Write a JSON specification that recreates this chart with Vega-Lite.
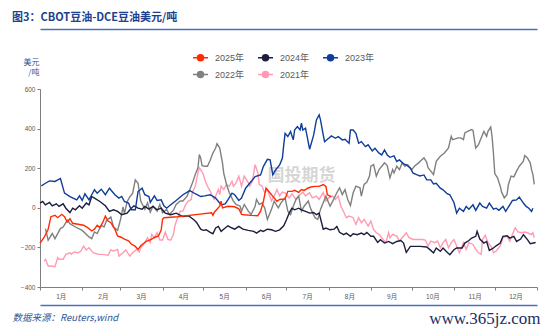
{
"$schema": "https://vega.github.io/schema/vega-lite/v6.json",
"width": 497, "height": 198,
"autosize": {"type": "none"},
"padding": {"left": 40, "top": 89, "right": 13, "bottom": 46},
"background": "white",
"title": {"text": "图3：CBOT豆油-DCE豆油美元/吨", "anchor": "start", "frame": "bounds", "offset": 6, "font": "Noto Sans CJK SC", "fontSize": 11, "fontWeight": "bold", "color": "#1f3f8f"},
"config": {"view": {"stroke": null}, "font": "Noto Sans CJK SC", "axis": {"grid": false, "labelFont": "Liberation Sans, Noto Sans CJK SC", "titleFont": "Noto Sans CJK SC"}},
"datasets": {
"pts": [
{"year":"2021年","day":3,"value":-269},{"year":"2021年","day":4,"value":-260},{"year":"2021年","day":6,"value":-294},{"year":"2021年","day":8,"value":-294},{"year":"2021年","day":11,"value":-297},{"year":"2021年","day":13,"value":-252},{"year":"2021年","day":14,"value":-260},{"year":"2021年","day":17,"value":-260},{"year":"2021年","day":19,"value":-235},{"year":"2021年","day":22,"value":-227},{"year":"2021年","day":23,"value":-235},{"year":"2021年","day":25,"value":-223},{"year":"2021年","day":28,"value":-227},{"year":"2021年","day":30,"value":-218},{"year":"2021年","day":32,"value":-193},{"year":"2021年","day":34,"value":-213},{"year":"2021年","day":36,"value":-202},{"year":"2021年","day":39,"value":-227},{"year":"2021年","day":43,"value":-235},{"year":"2021年","day":46,"value":-235},{"year":"2021年","day":50,"value":-240},{"year":"2021年","day":52,"value":-213},{"year":"2021年","day":54,"value":-218},{"year":"2021年","day":57,"value":-210},{"year":"2021年","day":58,"value":-244},{"year":"2021年","day":61,"value":-227},{"year":"2021年","day":63,"value":-213},{"year":"2021年","day":66,"value":-244},{"year":"2021年","day":68,"value":-227},{"year":"2021年","day":71,"value":-210},{"year":"2021年","day":73,"value":-223},{"year":"2021年","day":74,"value":-202},{"year":"2021年","day":77,"value":-176},{"year":"2021年","day":79,"value":-151},{"year":"2021年","day":81,"value":-176},{"year":"2021年","day":82,"value":-134},{"year":"2021年","day":84,"value":-151},{"year":"2021年","day":86,"value":-126},{"year":"2021年","day":88,"value":-163},{"year":"2021年","day":90,"value":-163},{"year":"2021年","day":92,"value":-123},{"year":"2021年","day":94,"value":-160},{"year":"2021年","day":96,"value":-163},{"year":"2021年","day":98,"value":-134},{"year":"2021年","day":99,"value":-92},{"year":"2021年","day":101,"value":-50},{"year":"2021年","day":103,"value":-17},{"year":"2021年","day":105,"value":-17},{"year":"2021年","day":107,"value":17},{"year":"2021年","day":109,"value":34},{"year":"2021年","day":111,"value":42},{"year":"2021年","day":112,"value":79},{"year":"2021年","day":114,"value":109},{"year":"2021年","day":116,"value":176},{"year":"2021年","day":117,"value":202},{"year":"2021年","day":118,"value":193},{"year":"2021年","day":120,"value":168},{"year":"2021年","day":121,"value":143},{"year":"2021年","day":123,"value":109},{"year":"2021年","day":125,"value":84},{"year":"2021年","day":126,"value":67},{"year":"2021年","day":128,"value":42},{"year":"2021年","day":130,"value":76},{"year":"2021年","day":131,"value":92},{"year":"2021年","day":132,"value":67},{"year":"2021年","day":133,"value":109},{"year":"2021年","day":135,"value":92},{"year":"2021年","day":137,"value":118},{"year":"2021年","day":139,"value":109},{"year":"2021年","day":141,"value":134},{"year":"2021年","day":142,"value":109},{"year":"2021年","day":144,"value":126},{"year":"2021年","day":146,"value":160},{"year":"2021年","day":148,"value":109},{"year":"2021年","day":150,"value":160},{"year":"2021年","day":153,"value":126},{"year":"2021年","day":154,"value":109},{"year":"2021年","day":156,"value":134},{"year":"2021年","day":158,"value":218},{"year":"2021年","day":160,"value":176},{"year":"2021年","day":161,"value":118},{"year":"2021年","day":163,"value":109},{"year":"2021年","day":165,"value":76},{"year":"2021年","day":167,"value":92},{"year":"2021年","day":170,"value":34},{"year":"2021年","day":172,"value":60},{"year":"2021年","day":174,"value":92},{"year":"2021年","day":176,"value":60},{"year":"2021年","day":178,"value":79},{"year":"2021年","day":180,"value":75},{"year":"2021年","day":183,"value":50},{"year":"2021年","day":185,"value":70},{"year":"2021年","day":188,"value":42},{"year":"2021年","day":190,"value":60},{"year":"2021年","day":193,"value":79},{"year":"2021年","day":195,"value":60},{"year":"2021年","day":198,"value":76},{"year":"2021年","day":200,"value":50},{"year":"2021年","day":203,"value":59},{"year":"2021年","day":205,"value":42},{"year":"2021年","day":208,"value":76},{"year":"2021年","day":210,"value":34},{"year":"2021年","day":212,"value":50},{"year":"2021年","day":215,"value":59},{"year":"2021年","day":217,"value":42},{"year":"2021年","day":219,"value":59},{"year":"2021年","day":221,"value":8},{"year":"2021年","day":223,"value":-20},{"year":"2021年","day":225,"value":-50},{"year":"2021年","day":227,"value":-42},{"year":"2021年","day":230,"value":-50},{"year":"2021年","day":232,"value":-84},{"year":"2021年","day":234,"value":-50},{"year":"2021年","day":236,"value":-76},{"year":"2021年","day":238,"value":-59},{"year":"2021年","day":241,"value":-92},{"year":"2021年","day":243,"value":-67},{"year":"2021年","day":245,"value":-109},{"year":"2021年","day":247,"value":-126},{"year":"2021年","day":249,"value":-134},{"year":"2021年","day":252,"value":-160},{"year":"2021年","day":254,"value":-176},{"year":"2021年","day":256,"value":-126},{"year":"2021年","day":257,"value":-151},{"year":"2021年","day":259,"value":-134},{"year":"2021年","day":262,"value":-143},{"year":"2021年","day":264,"value":-168},{"year":"2021年","day":266,"value":-151},{"year":"2021年","day":269,"value":-126},{"year":"2021年","day":271,"value":-151},{"year":"2021年","day":274,"value":-160},{"year":"2021年","day":277,"value":-160},{"year":"2021年","day":281,"value":-160},{"year":"2021年","day":283,"value":-163},{"year":"2021年","day":285,"value":-193},{"year":"2021年","day":287,"value":-168},{"year":"2021年","day":290,"value":-176},{"year":"2021年","day":292,"value":-168},{"year":"2021年","day":294,"value":-202},{"year":"2021年","day":296,"value":-176},{"year":"2021年","day":298,"value":-160},{"year":"2021年","day":300,"value":-202},{"year":"2021年","day":302,"value":-176},{"year":"2021年","day":304,"value":-160},{"year":"2021年","day":306,"value":-193},{"year":"2021年","day":308,"value":-227},{"year":"2021年","day":311,"value":-176},{"year":"2021年","day":313,"value":-210},{"year":"2021年","day":315,"value":-176},{"year":"2021年","day":318,"value":-185},{"year":"2021年","day":320,"value":-210},{"year":"2021年","day":322,"value":-227},{"year":"2021年","day":324,"value":-235},{"year":"2021年","day":325,"value":-160},{"year":"2021年","day":327,"value":-139},{"year":"2021年","day":329,"value":-176},{"year":"2021年","day":332,"value":-202},{"year":"2021年","day":333,"value":-227},{"year":"2021年","day":335,"value":-218},{"year":"2021年","day":338,"value":-193},{"year":"2021年","day":340,"value":-151},{"year":"2021年","day":343,"value":-143},{"year":"2021年","day":345,"value":-168},{"year":"2021年","day":347,"value":-134},{"year":"2021年","day":349,"value":-101},{"year":"2021年","day":350,"value":-112},{"year":"2021年","day":351,"value":-122},{"year":"2021年","day":354,"value":-126},{"year":"2021年","day":356,"value":-122},{"year":"2021年","day":358,"value":-126},{"year":"2021年","day":361,"value":-135},{"year":"2021年","day":362,"value":-126},{"year":"2021年","day":363,"value":-151},
{"year":"2022年","day":4,"value":-105},{"year":"2022年","day":6,"value":-164},{"year":"2022年","day":9,"value":-130},{"year":"2022年","day":11,"value":-156},{"year":"2022年","day":15,"value":-105},{"year":"2022年","day":17,"value":-97},{"year":"2022年","day":20,"value":-63},{"year":"2022年","day":22,"value":-80},{"year":"2022年","day":26,"value":-97},{"year":"2022年","day":31,"value":-114},{"year":"2022年","day":36,"value":-147},{"year":"2022年","day":38,"value":-156},{"year":"2022年","day":40,"value":-122},{"year":"2022年","day":42,"value":-130},{"year":"2022年","day":45,"value":-88},{"year":"2022年","day":47,"value":-97},{"year":"2022年","day":49,"value":-63},{"year":"2022年","day":52,"value":-46},{"year":"2022年","day":54,"value":-97},{"year":"2022年","day":57,"value":-114},{"year":"2022年","day":59,"value":-63},{"year":"2022年","day":61,"value":5},{"year":"2022年","day":62,"value":-29},{"year":"2022年","day":64,"value":31},{"year":"2022年","day":66,"value":56},{"year":"2022年","day":68,"value":73},{"year":"2022年","day":70,"value":141},{"year":"2022年","day":72,"value":124},{"year":"2022年","day":74,"value":34},{"year":"2022年","day":77,"value":-8},{"year":"2022年","day":79,"value":25},{"year":"2022年","day":81,"value":-22},{"year":"2022年","day":83,"value":8},{"year":"2022年","day":86,"value":-17},{"year":"2022年","day":88,"value":17},{"year":"2022年","day":90,"value":-25},{"year":"2022年","day":93,"value":-8},{"year":"2022年","day":95,"value":-34},{"year":"2022年","day":98,"value":-12},{"year":"2022年","day":100,"value":17},{"year":"2022年","day":103,"value":34},{"year":"2022年","day":105,"value":34},{"year":"2022年","day":108,"value":59},{"year":"2022年","day":110,"value":92},{"year":"2022年","day":112,"value":126},{"year":"2022年","day":114,"value":168},{"year":"2022年","day":116,"value":202},{"year":"2022年","day":117,"value":269},{"year":"2022年","day":118,"value":252},{"year":"2022年","day":119,"value":213},{"year":"2022年","day":121,"value":210},{"year":"2022年","day":123,"value":210},{"year":"2022年","day":125,"value":240},{"year":"2022年","day":127,"value":277},{"year":"2022年","day":129,"value":302},{"year":"2022年","day":130,"value":324},{"year":"2022年","day":132,"value":302},{"year":"2022年","day":134,"value":227},{"year":"2022年","day":135,"value":173},{"year":"2022年","day":137,"value":118},{"year":"2022年","day":139,"value":76},{"year":"2022年","day":142,"value":34},{"year":"2022年","day":144,"value":17},{"year":"2022年","day":147,"value":8},{"year":"2022年","day":148,"value":-17},{"year":"2022年","day":150,"value":17},{"year":"2022年","day":153,"value":-17},{"year":"2022年","day":155,"value":-34},{"year":"2022年","day":158,"value":8},{"year":"2022年","day":159,"value":42},{"year":"2022年","day":161,"value":17},{"year":"2022年","day":163,"value":25},{"year":"2022年","day":165,"value":0},{"year":"2022年","day":167,"value":-59},{"year":"2022年","day":170,"value":-8},{"year":"2022年","day":172,"value":34},{"year":"2022年","day":175,"value":0},{"year":"2022年","day":177,"value":25},{"year":"2022年","day":180,"value":50},{"year":"2022年","day":182,"value":-17},{"year":"2022年","day":184,"value":-34},{"year":"2022年","day":186,"value":8},{"year":"2022年","day":188,"value":42},{"year":"2022年","day":190,"value":59},{"year":"2022年","day":192,"value":-17},{"year":"2022年","day":194,"value":8},{"year":"2022年","day":197,"value":34},{"year":"2022年","day":199,"value":-8},{"year":"2022年","day":202,"value":-50},{"year":"2022年","day":204,"value":-59},{"year":"2022年","day":206,"value":-8},{"year":"2022年","day":208,"value":25},{"year":"2022年","day":210,"value":59},{"year":"2022年","day":213,"value":8},{"year":"2022年","day":215,"value":34},{"year":"2022年","day":218,"value":76},{"year":"2022年","day":220,"value":101},{"year":"2022年","day":222,"value":67},{"year":"2022年","day":224,"value":92},{"year":"2022年","day":226,"value":42},{"year":"2022年","day":228,"value":12},{"year":"2022年","day":230,"value":76},{"year":"2022年","day":232,"value":109},{"year":"2022年","day":235,"value":101},{"year":"2022年","day":236,"value":59},{"year":"2022年","day":238,"value":118},{"year":"2022年","day":240,"value":129},{"year":"2022年","day":242,"value":160},{"year":"2022年","day":243,"value":210},{"year":"2022年","day":245,"value":218},{"year":"2022年","day":247,"value":160},{"year":"2022年","day":249,"value":193},{"year":"2022年","day":251,"value":210},{"year":"2022年","day":253,"value":227},{"year":"2022年","day":255,"value":213},{"year":"2022年","day":257,"value":151},{"year":"2022年","day":259,"value":193},{"year":"2022年","day":260,"value":176},{"year":"2022年","day":262,"value":210},{"year":"2022年","day":264,"value":193},{"year":"2022年","day":266,"value":227},{"year":"2022年","day":268,"value":210},{"year":"2022年","day":270,"value":218},{"year":"2022年","day":273,"value":193},{"year":"2022年","day":275,"value":210},{"year":"2022年","day":278,"value":227},{"year":"2022年","day":280,"value":240},{"year":"2022年","day":282,"value":252},{"year":"2022年","day":284,"value":230},{"year":"2022年","day":285,"value":202},{"year":"2022年","day":287,"value":185},{"year":"2022年","day":289,"value":168},{"year":"2022年","day":291,"value":235},{"year":"2022年","day":294,"value":260},{"year":"2022年","day":297,"value":277},{"year":"2022年","day":300,"value":302},{"year":"2022年","day":302,"value":361},{"year":"2022年","day":303,"value":344},{"year":"2022年","day":305,"value":348},{"year":"2022年","day":307,"value":353},{"year":"2022年","day":309,"value":353},{"year":"2022年","day":311,"value":344},{"year":"2022年","day":312,"value":378},{"year":"2022年","day":314,"value":386},{"year":"2022年","day":317,"value":395},{"year":"2022年","day":318,"value":391},{"year":"2022年","day":320,"value":302},{"year":"2022年","day":322,"value":319},{"year":"2022年","day":324,"value":353},{"year":"2022年","day":326,"value":386},{"year":"2022年","day":328,"value":361},{"year":"2022年","day":329,"value":386},{"year":"2022年","day":331,"value":408},{"year":"2022年","day":332,"value":361},{"year":"2022年","day":333,"value":277},{"year":"2022年","day":334,"value":173},{"year":"2022年","day":336,"value":151},{"year":"2022年","day":338,"value":109},{"year":"2022年","day":339,"value":79},{"year":"2022年","day":341,"value":50},{"year":"2022年","day":343,"value":67},{"year":"2022年","day":344,"value":118},{"year":"2022年","day":346,"value":160},{"year":"2022年","day":348,"value":156},{"year":"2022年","day":350,"value":185},{"year":"2022年","day":352,"value":210},{"year":"2022年","day":355,"value":235},{"year":"2022年","day":356,"value":264},{"year":"2022年","day":358,"value":252},{"year":"2022年","day":360,"value":227},{"year":"2022年","day":361,"value":193},{"year":"2022年","day":362,"value":168},{"year":"2022年","day":363,"value":118},
{"year":"2024年","day":0,"value":24},{"year":"2024年","day":2,"value":32},{"year":"2024年","day":4,"value":15},{"year":"2024年","day":7,"value":27},{"year":"2024年","day":9,"value":10},{"year":"2024年","day":12,"value":20},{"year":"2024年","day":14,"value":7},{"year":"2024年","day":17,"value":20},{"year":"2024年","day":19,"value":-2},{"year":"2024年","day":22,"value":-24},{"year":"2024年","day":24,"value":-2},{"year":"2024年","day":26,"value":-10},{"year":"2024年","day":29,"value":10},{"year":"2024年","day":31,"value":-2},{"year":"2024年","day":34,"value":24},{"year":"2024年","day":36,"value":15},{"year":"2024年","day":38,"value":57},{"year":"2024年","day":40,"value":49},{"year":"2024年","day":44,"value":32},{"year":"2024年","day":48,"value":10},{"year":"2024年","day":51,"value":-18},{"year":"2024年","day":54,"value":-10},{"year":"2024年","day":57,"value":-18},{"year":"2024年","day":60,"value":-35},{"year":"2024年","day":64,"value":-27},{"year":"2024年","day":66,"value":-10},{"year":"2024年","day":69,"value":10},{"year":"2024年","day":72,"value":-2},{"year":"2024年","day":75,"value":-7},{"year":"2024年","day":77,"value":7},{"year":"2024年","day":80,"value":-7},{"year":"2024年","day":83,"value":7},{"year":"2024年","day":86,"value":-10},{"year":"2024年","day":89,"value":-2},{"year":"2024年","day":92,"value":-27},{"year":"2024年","day":96,"value":-35},{"year":"2024年","day":100,"value":-27},{"year":"2024年","day":105,"value":-44},{"year":"2024年","day":109,"value":-40},{"year":"2024年","day":113,"value":-60},{"year":"2024年","day":115,"value":-74},{"year":"2024年","day":118,"value":-108},{"year":"2024年","day":120,"value":-114},{"year":"2024年","day":122,"value":-111},{"year":"2024年","day":125,"value":-124},{"year":"2024年","day":127,"value":-131},{"year":"2024年","day":129,"value":-102},{"year":"2024年","day":131,"value":-94},{"year":"2024年","day":133,"value":-119},{"year":"2024年","day":136,"value":-102},{"year":"2024年","day":138,"value":-91},{"year":"2024年","day":141,"value":-102},{"year":"2024年","day":143,"value":-108},{"year":"2024年","day":146,"value":-94},{"year":"2024年","day":149,"value":-108},{"year":"2024年","day":153,"value":-114},{"year":"2024年","day":157,"value":-119},{"year":"2024年","day":159,"value":-128},{"year":"2024年","day":162,"value":-114},{"year":"2024年","day":164,"value":-119},{"year":"2024年","day":167,"value":-108},{"year":"2024年","day":170,"value":-111},{"year":"2024年","day":173,"value":-119},{"year":"2024年","day":176,"value":-111},{"year":"2024年","day":179,"value":-91},{"year":"2024年","day":181,"value":-60},{"year":"2024年","day":183,"value":-27},{"year":"2024年","day":185,"value":-2},{"year":"2024年","day":187,"value":-10},{"year":"2024年","day":190,"value":-2},{"year":"2024年","day":192,"value":-10},{"year":"2024年","day":195,"value":-18},{"year":"2024年","day":198,"value":-27},{"year":"2024年","day":201,"value":-24},{"year":"2024年","day":203,"value":-35},{"year":"2024年","day":205,"value":-27},{"year":"2024年","day":208,"value":-108},{"year":"2024年","day":210,"value":-102},{"year":"2024年","day":213,"value":-111},{"year":"2024年","day":216,"value":-108},{"year":"2024年","day":218,"value":-94},{"year":"2024年","day":220,"value":-124},{"year":"2024年","day":223,"value":-136},{"year":"2024年","day":225,"value":-128},{"year":"2024年","day":228,"value":-144},{"year":"2024年","day":230,"value":-131},{"year":"2024年","day":233,"value":-136},{"year":"2024年","day":236,"value":-128},{"year":"2024年","day":238,"value":-136},{"year":"2024年","day":240,"value":-124},{"year":"2024年","day":243,"value":-144},{"year":"2024年","day":245,"value":-144},{"year":"2024年","day":248,"value":-175},{"year":"2024年","day":250,"value":-161},{"year":"2024年","day":253,"value":-178},{"year":"2024年","day":256,"value":-170},{"year":"2024年","day":259,"value":-181},{"year":"2024年","day":262,"value":-170},{"year":"2024年","day":265,"value":-165},{"year":"2024年","day":267,"value":-178},{"year":"2024年","day":269,"value":-225},{"year":"2024年","day":272,"value":-195},{"year":"2024年","day":274,"value":-195},{"year":"2024年","day":279,"value":-195},{"year":"2024年","day":284,"value":-198},{"year":"2024年","day":287,"value":-215},{"year":"2024年","day":289,"value":-228},{"year":"2024年","day":291,"value":-203},{"year":"2024年","day":294,"value":-220},{"year":"2024年","day":296,"value":-203},{"year":"2024年","day":299,"value":-225},{"year":"2024年","day":301,"value":-237},{"year":"2024年","day":304,"value":-212},{"year":"2024年","day":306,"value":-203},{"year":"2024年","day":310,"value":-203},{"year":"2024年","day":312,"value":-178},{"year":"2024年","day":315,"value":-165},{"year":"2024年","day":317,"value":-153},{"year":"2024年","day":320,"value":-144},{"year":"2024年","day":321,"value":-119},{"year":"2024年","day":323,"value":-158},{"year":"2024年","day":326,"value":-178},{"year":"2024年","day":328,"value":-170},{"year":"2024年","day":330,"value":-215},{"year":"2024年","day":333,"value":-203},{"year":"2024年","day":335,"value":-192},{"year":"2024年","day":338,"value":-178},{"year":"2024年","day":340,"value":-144},{"year":"2024年","day":343,"value":-141},{"year":"2024年","day":345,"value":-153},{"year":"2024年","day":348,"value":-144},{"year":"2024年","day":350,"value":-170},{"year":"2024年","day":353,"value":-158},{"year":"2024年","day":355,"value":-136},{"year":"2024年","day":358,"value":-161},{"year":"2024年","day":360,"value":-181},{"year":"2024年","day":364,"value":-175},
{"year":"2023年","day":1,"value":111},{"year":"2023年","day":4,"value":124},{"year":"2023年","day":7,"value":136},{"year":"2023年","day":11,"value":133},{"year":"2023年","day":15,"value":148},{"year":"2023年","day":18,"value":74},{"year":"2023年","day":22,"value":57},{"year":"2023年","day":27,"value":40},{"year":"2023年","day":29,"value":60},{"year":"2023年","day":31,"value":37},{"year":"2023年","day":33,"value":71},{"year":"2023年","day":36,"value":40},{"year":"2023年","day":38,"value":66},{"year":"2023年","day":40,"value":91},{"year":"2023年","day":42,"value":74},{"year":"2023年","day":45,"value":94},{"year":"2023年","day":48,"value":66},{"year":"2023年","day":51,"value":99},{"year":"2023年","day":55,"value":66},{"year":"2023年","day":58,"value":49},{"year":"2023年","day":60,"value":57},{"year":"2023年","day":62,"value":32},{"year":"2023年","day":65,"value":24},{"year":"2023年","day":67,"value":-10},{"year":"2023年","day":70,"value":-10},{"year":"2023年","day":72,"value":82},{"year":"2023年","day":75,"value":99},{"year":"2023年","day":77,"value":66},{"year":"2023年","day":80,"value":57},{"year":"2023年","day":81,"value":27},{"year":"2023年","day":84,"value":60},{"year":"2023年","day":86,"value":37},{"year":"2023年","day":89,"value":40},{"year":"2023年","day":91,"value":10},{"year":"2023年","day":93,"value":-2},{"year":"2023年","day":96,"value":15},{"year":"2023年","day":100,"value":37},{"year":"2023年","day":105,"value":66},{"year":"2023年","day":110,"value":87},{"year":"2023年","day":114,"value":71},{"year":"2023年","day":118,"value":57},{"year":"2023年","day":121,"value":60},{"year":"2023年","day":125,"value":66},{"year":"2023年","day":129,"value":49},{"year":"2023年","day":131,"value":32},{"year":"2023年","day":133,"value":15},{"year":"2023年","day":136,"value":20},{"year":"2023年","day":138,"value":40},{"year":"2023年","day":141,"value":74},{"year":"2023年","day":143,"value":66},{"year":"2023年","day":146,"value":37},{"year":"2023年","day":148,"value":49},{"year":"2023年","day":151,"value":99},{"year":"2023年","day":154,"value":124},{"year":"2023年","day":158,"value":158},{"year":"2023年","day":162,"value":166},{"year":"2023年","day":164,"value":208},{"year":"2023年","day":167,"value":245},{"year":"2023年","day":169,"value":242},{"year":"2023年","day":171,"value":166},{"year":"2023年","day":173,"value":191},{"year":"2023年","day":176,"value":217},{"year":"2023年","day":178,"value":250},{"year":"2023年","day":179,"value":318},{"year":"2023年","day":180,"value":376},{"year":"2023年","day":182,"value":360},{"year":"2023年","day":184,"value":385},{"year":"2023年","day":186,"value":343},{"year":"2023年","day":187,"value":393},{"year":"2023年","day":189,"value":410},{"year":"2023年","day":191,"value":393},{"year":"2023年","day":192,"value":427},{"year":"2023年","day":193,"value":393},{"year":"2023年","day":195,"value":402},{"year":"2023年","day":198,"value":296},{"year":"2023年","day":201,"value":368},{"year":"2023年","day":203,"value":444},{"year":"2023年","day":205,"value":469},{"year":"2023年","day":206,"value":444},{"year":"2023年","day":208,"value":368},{"year":"2023年","day":209,"value":334},{"year":"2023年","day":212,"value":351},{"year":"2023年","day":214,"value":363},{"year":"2023年","day":217,"value":351},{"year":"2023年","day":219,"value":360},{"year":"2023年","day":222,"value":343},{"year":"2023年","day":224,"value":346},{"year":"2023年","day":227,"value":326},{"year":"2023年","day":228,"value":393},{"year":"2023年","day":230,"value":393},{"year":"2023年","day":232,"value":376},{"year":"2023年","day":234,"value":326},{"year":"2023年","day":236,"value":334},{"year":"2023年","day":239,"value":309},{"year":"2023年","day":241,"value":318},{"year":"2023年","day":244,"value":287},{"year":"2023年","day":246,"value":301},{"year":"2023年","day":249,"value":276},{"year":"2023年","day":251,"value":267},{"year":"2023年","day":253,"value":292},{"year":"2023年","day":255,"value":267},{"year":"2023年","day":257,"value":255},{"year":"2023年","day":260,"value":262},{"year":"2023年","day":262,"value":234},{"year":"2023年","day":264,"value":242},{"year":"2023年","day":267,"value":222},{"year":"2023年","day":269,"value":217},{"year":"2023年","day":272,"value":200},{"year":"2023年","day":274,"value":175},{"year":"2023年","day":277,"value":166},{"year":"2023年","day":279,"value":161},{"year":"2023年","day":282,"value":166},{"year":"2023年","day":284,"value":141},{"year":"2023年","day":287,"value":141},{"year":"2023年","day":289,"value":121},{"year":"2023年","day":291,"value":124},{"year":"2023年","day":294,"value":99},{"year":"2023年","day":296,"value":91},{"year":"2023年","day":299,"value":71},{"year":"2023年","day":301,"value":66},{"year":"2023年","day":304,"value":27},{"year":"2023年","day":306,"value":-27},{"year":"2023年","day":308,"value":-2},{"year":"2023年","day":311,"value":-18},{"year":"2023年","day":313,"value":7},{"year":"2023年","day":315,"value":-7},{"year":"2023年","day":318,"value":15},{"year":"2023年","day":320,"value":-13},{"year":"2023年","day":323,"value":24},{"year":"2023年","day":325,"value":7},{"year":"2023年","day":328,"value":-2},{"year":"2023年","day":330,"value":24},{"year":"2023年","day":333,"value":-7},{"year":"2023年","day":335,"value":-2},{"year":"2023年","day":337,"value":-13},{"year":"2023年","day":340,"value":7},{"year":"2023年","day":342,"value":-18},{"year":"2023年","day":345,"value":15},{"year":"2023年","day":347,"value":37},{"year":"2023年","day":350,"value":40},{"year":"2023年","day":352,"value":54},{"year":"2023年","day":355,"value":24},{"year":"2023年","day":357,"value":7},{"year":"2023年","day":359,"value":-2},{"year":"2023年","day":361,"value":-18},{"year":"2023年","day":362,"value":-2},
{"year":"2025年","day":0,"value":-178},{"year":"2025年","day":3,"value":-150},{"year":"2025年","day":6,"value":-108},{"year":"2025年","day":8,"value":-45},{"year":"2025年","day":11,"value":-38},{"year":"2025年","day":13,"value":-50},{"year":"2025年","day":16,"value":-33},{"year":"2025年","day":18,"value":-45},{"year":"2025年","day":20,"value":-72},{"year":"2025年","day":22,"value":-55},{"year":"2025年","day":24,"value":-78},{"year":"2025年","day":28,"value":-83},{"year":"2025年","day":32,"value":-88},{"year":"2025年","day":35,"value":-100},{"year":"2025年","day":38,"value":-117},{"year":"2025年","day":40,"value":-108},{"year":"2025年","day":42,"value":-88},{"year":"2025年","day":44,"value":-100},{"year":"2025年","day":46,"value":-75},{"year":"2025年","day":48,"value":-42},{"year":"2025年","day":50,"value":-67},{"year":"2025年","day":52,"value":-75},{"year":"2025年","day":55,"value":-108},{"year":"2025年","day":57,"value":-142},{"year":"2025年","day":60,"value":-150},{"year":"2025年","day":62,"value":-158},{"year":"2025年","day":65,"value":-167},{"year":"2025年","day":67,"value":-183},{"year":"2025年","day":70,"value":-195},{"year":"2025年","day":72,"value":-210},{"year":"2025年","day":74,"value":-192},{"year":"2025年","day":76,"value":-180},{"year":"2025年","day":78,"value":-170},{"year":"2025年","day":80,"value":-165},{"year":"2025年","day":82,"value":-158},{"year":"2025年","day":84,"value":-150},{"year":"2025年","day":87,"value":-142},{"year":"2025年","day":89,"value":-112},{"year":"2025年","day":90,"value":-58},{"year":"2025年","day":91,"value":-50},{"year":"2025年","day":101,"value":-45},{"year":"2025年","day":116,"value":-33},{"year":"2025年","day":126,"value":-25},{"year":"2025年","day":127,"value":-38},{"year":"2025年","day":128,"value":-22},{"year":"2025年","day":132,"value":8},{"year":"2025年","day":133,"value":33},{"year":"2025年","day":134,"value":0},{"year":"2025年","day":138,"value":8},{"year":"2025年","day":143,"value":5},{"year":"2025年","day":146,"value":-5},{"year":"2025年","day":148,"value":-33},{"year":"2025年","day":150,"value":-35},{"year":"2025年","day":155,"value":-38},{"year":"2025年","day":160,"value":-40},{"year":"2025年","day":162,"value":-17},{"year":"2025年","day":164,"value":30},{"year":"2025年","day":166,"value":100},{"year":"2025年","day":169,"value":75},{"year":"2025年","day":171,"value":58},{"year":"2025年","day":174,"value":33},{"year":"2025年","day":176,"value":42},{"year":"2025年","day":180,"value":45},{"year":"2025年","day":182,"value":83},{"year":"2025年","day":185,"value":83},{"year":"2025年","day":187,"value":88},{"year":"2025年","day":190,"value":78},{"year":"2025年","day":192,"value":92},{"year":"2025年","day":194,"value":88},{"year":"2025年","day":197,"value":100},{"year":"2025年","day":199,"value":105},{"year":"2025年","day":202,"value":108},{"year":"2025年","day":205,"value":108},{"year":"2025年","day":208,"value":117},{"year":"2025年","day":210,"value":108},{"year":"2025年","day":211,"value":67},{"year":"2025年","day":213,"value":58},{"year":"2025年","day":214,"value":58}
]},
"data": {"name": "pts"},
"layer": [
{
"mark": {"type": "line", "strokeWidth": 1.4},
"encoding": {
"x": {"field": "day", "type": "quantitative", "scale": {"domain": [0, 365], "nice": false, "zero": false},
"axis": {"orient": "bottom", "title": null, "values": [0,31,59,90,120,151,181,212,243,273,304,334,365], "labelExpr": "datum.value >= 365 ? '' : (indexof([0,31,59,90,120,151,181,212,243,273,304,334], datum.value) + 1) + '月'", "labelOffset": 20.7, "labelOverlap": false, "labelBound": false, "labelFlush": false, "labelFontSize": 6.5, "labelColor": "#595959", "labelPadding": 3, "tickSize": 3, "tickColor": "#7f7f7f", "domainColor": "#7f7f7f"}},
"y": {"field": "value", "type": "quantitative", "scale": {"domain": [-400, 600], "nice": false},
"axis": {"values": [-400,-200,0,200,400,600], "title": ["美元", "/吨"], "titleAngle": 0, "titleAlign": "right", "titleBaseline": "top", "titleX": -1, "titleY": -31, "titleFontSize": 8, "titleFontWeight": "normal", "titleColor": "#2f5597", "titleLineHeight": 10, "labelFontSize": 6.5, "labelColor": "#595959", "labelPadding": 2, "tickSize": 3, "tickColor": "#7f7f7f", "domainColor": "#7f7f7f"}},
"color": {"field": "year", "type": "nominal", "sort": null,
"scale": {"domain": ["2025年", "2024年", "2023年", "2022年", "2021年"], "range": ["#ff2a00", "#1b1e3c", "#0f3d99", "#808080", "#ff9bb3"]},
"legend": {"orient": "none", "legendX": 152, "legendY": -40, "direction": "horizontal", "columns": 3, "title": null, "padding": 0,
"symbolType": "M-1,0H1M-0.4,0A0.4,0.4,0,1,0,0.4,0A0.4,0.4,0,1,0,-0.4,0", "symbolSize": 225, "symbolStrokeWidth": 1.5,
"labelFontSize": 9, "labelColor": "#595959", "labelFont": "Liberation Sans, Noto Sans CJK SC", "labelOffset": 6, "columnPadding": 10, "rowPadding": 2,
"encode": {"symbols": {"update": {"fill": {"scale": "color", "field": "value"}}}}}}
}
},
{
"mark": {"type": "line", "opacity": 0},
"encoding": {
"x": {"field": "day", "type": "quantitative", "axis": {"orient": "top", "offset": 60, "domainColor": "#4a72b8", "domainWidth": 1.5, "ticks": false, "labels": false, "title": "国投期货", "titleX": 261, "titleY": 146, "titleAlign": "center", "titleBaseline": "middle", "titleAngle": 0, "titleFontSize": 17, "titleFontWeight": "bold", "titleColor": "#c4c4c4", "titleOpacity": 0.7}},
"y": {"field": "value", "type": "quantitative", "axis": {"orient": "right", "domain": false, "ticks": false, "labels": false, "title": "www.365jz.com", "titleX": 3, "titleY": 229, "titleAngle": 0, "titleAlign": "right", "titleBaseline": "middle", "titleFont": "Liberation Serif", "titleFontSize": 17, "titleFontWeight": "normal", "titleColor": "#1c2f5e"}}
}
},
{
"mark": {"type": "line", "opacity": 0},
"encoding": {
"x": {"field": "day", "type": "quantitative", "axis": {"orient": "bottom", "offset": 18, "domainColor": "#4a72b8", "domainWidth": 1.5, "ticks": false, "labels": false, "title": "数据来源：Reuters,wind", "titleX": -28, "titleY": 12, "titleAlign": "left", "titleBaseline": "middle", "titleAngle": 0, "titleFontSize": 9.5, "titleFontStyle": "italic", "titleFontWeight": "normal", "titleColor": "#2f5597"}},
"y": {"field": "value", "type": "quantitative", "axis": null}
}
}
],
"resolve": {"axis": {"x": "independent", "y": "independent"}}
}
